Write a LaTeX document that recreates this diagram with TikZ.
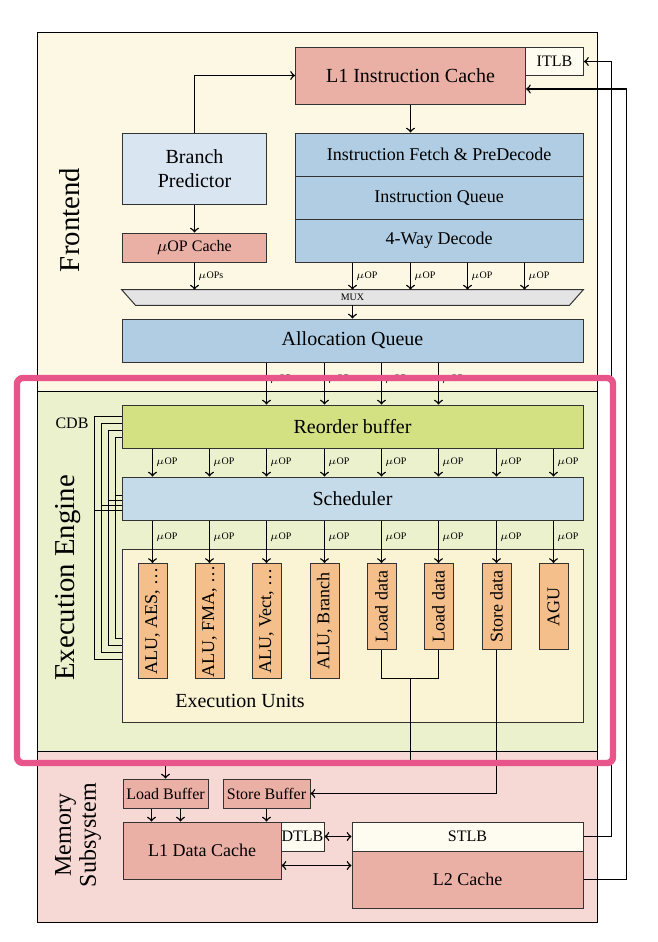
\documentclass[tikz,border=0pt]{standalone}
\usepackage{fontspec}
\setmainfont{Liberation Serif}
\usepackage{graphicx}
\usetikzlibrary{positioning}

\definecolor{frontbg}{HTML}{FCF8E3}
\definecolor{execbg}{HTML}{EBF1CD}
\definecolor{membg}{HTML}{F6D9D4}
\definecolor{cachered}{HTML}{EBB0A5}
\definecolor{tlbcream}{HTML}{FEFCF0}
\definecolor{predblue}{HTML}{D9E5F1}
\definecolor{decblue}{HTML}{B1CDE3}
\definecolor{schedblue}{HTML}{C5DBEA}
\definecolor{robgreen}{HTML}{D4E183}
\definecolor{eucream}{HTML}{FAF4D4}
\definecolor{unitorange}{HTML}{F4BF8B}
\definecolor{muxgray}{HTML}{E4E4E4}
\definecolor{hlpink}{HTML}{E8558A}

\begin{document}
\begin{tikzpicture}[x=0.5pt, y=-0.5pt]
    \tikzstyle{blk}=[draw=black!80, line width=0.5pt, inner sep=0pt, align=center]
    \tikzstyle{arr}=[line width=0.7pt, ->]
    \tikzstyle{darr}=[line width=0.7pt, <->]
    \tikzstyle{bus}=[line width=0.7pt]
    \tikzstyle{uop}=[font=\tiny, right, inner sep=1.5pt]
    \tikzstyle{unit}=[blk, fill=unitorange, minimum width=14.5pt, anchor=north, font=\small]

    \useasboundingbox (0,0) rectangle (658,942);

    % regions
    \draw[fill=frontbg] (37,32) rectangle (597,391);
    \draw[fill=execbg] (37,391) rectangle (597,751);
    \draw[fill=membg] (37,751) rectangle (597,922);
    \node[rotate=90, font=\Large] (frontlbl) at (70,220) {Frontend};
    \node[rotate=90, font=\Large] (execlbl) at (68,578) {Execution Engine};
    \node[rotate=90, font={\fontsize{12}{12.5}\selectfont}, align=center, inner sep=0pt] (memlbl) at (78,835) {Memory\\Subsystem};

    % frontend
    \node[blk, fill=cachered, minimum width=115pt, minimum height=28.5pt] (l1i) at (410.5,75.5) {L1 Instruction Cache};
    \node[blk, fill=tlbcream, minimum width=29pt, minimum height=14pt, font=\footnotesize] (itlb) at (554.5,61.5) {ITLB};
    \node[blk, fill=predblue, minimum width=72pt, minimum height=35.5pt] (bpred) at (194.5,168.5) {Branch\\Predictor};
    \node[blk, fill=cachered, minimum width=72pt, minimum height=14.5pt, font=\footnotesize] (uopc) at (194.5,247.5) {$\mu$OP Cache};
    \node[blk, fill=decblue, minimum width=144pt, minimum height=21.5pt, font=\small] (fetch) at (439,154.5) {Instruction Fetch \& PreDecode};
    \node[blk, fill=decblue, minimum width=144pt, minimum height=21.5pt, font=\small] (iqueue) at (439,197.5) {Instruction Queue};
    \node[blk, fill=decblue, minimum width=144pt, minimum height=21.5pt, font=\small] (decode) at (439,240.5) {4-Way Decode};

    \node[inner sep=0pt, minimum width=230.5pt, minimum height=7.5pt] (mux) at (352.5,297.5) {};
    \draw[fill=muxgray, draw=black!80, line width=0.5pt] (mux.north west) -- (mux.north east) -- ([xshift=-7pt]mux.south east) -- ([xshift=7pt]mux.south west) -- cycle;
    \node[font=\tiny, inner sep=0pt] (muxlbl) at (mux) {MUX};

    \node[blk, fill=decblue, minimum width=230.5pt, minimum height=21.5pt] (aq) at (352.5,340.5) {Allocation Queue};

    \draw[arr] (bpred.north) |- (l1i.west);
    \draw[arr] (l1i.south) -- (l1i.south |- fetch.north);
    \draw[arr] (bpred.south) -- (uopc.north);
    \draw[arr] (uopc.south) -- (uopc.south |- mux.north) node[uop, midway] {$\mu$OPs};
    \foreach \x in {352.5, 410.5, 467.5, 524.5}
        \draw[arr] (decode.south -| \x,0) -- (\x,0 |- mux.north) node[uop, midway] {$\mu$OP};
    \draw[arr] (mux.south) -- (aq.north);

    % execution engine
    \node[blk, fill=robgreen, minimum width=230.5pt, minimum height=21.5pt] (rob) at (352.5,426.5) {Reorder buffer};
    \node[blk, fill=schedblue, minimum width=230.5pt, minimum height=21.5pt] (sched) at (352.5,498.5) {Scheduler};
    \node[blk, fill=eucream, minimum width=230.5pt, minimum height=86.5pt] (eu) at (352.5,635.5) {};
    \node (eulbl) at (240,701) {Execution Units};
    \node[font=\footnotesize] (cdb) at (72,423) {CDB};

    \foreach \i/\x/\txt/\h in {0/152.5/{ALU, AES, \dots}/57.5, 1/209.5/{ALU, FMA, \dots}/57.5, 2/266.5/{ALU, Vect, \dots}/57.5, 3/324.5/{ALU, Branch}/57.5, 4/381.5/{Load data}/43, 5/438.5/{Load data}/43, 6/496.5/{Store data}/43, 7/553.5/{AGU}/43}
        \node[unit, minimum height=\h pt] (u\i) at (\x,563) {\rotatebox{90}{\txt}};

    \foreach \x in {266.5, 324.5, 381.5, 438.5}
        \draw[arr] (aq.south -| \x,0) -- (\x,0 |- rob.north) node[uop, pos=0.4] {$\mu$OP};
    \foreach \i/\x in {0/152.5, 1/209.5, 2/266.5, 3/324.5, 4/381.5, 5/438.5, 6/496.5, 7/553.5} {
        \draw[arr] (rob.south -| \x,0) -- (\x,0 |- sched.north) node[uop, midway] {$\mu$OP};
        \draw[arr] (sched.south -| \x,0) -- (\x,0 |- u\i.north) node[uop, pos=0.4] {$\mu$OP};
    }

    % common data bus
    \foreach \cx/\ry/\sy/\by in {94.5/416.5/510.5/659.5, 101.5/423.5/505.5/652.5, 108.5/430.5/500.5/645.5, 115.5/437.5/495.5/638.5} {
        \draw[bus] (rob.west |- 0,\ry) -| (\cx,\by) -- (eu.west |- 0,\by);
        \draw[bus] (\cx,\sy) -- (sched.west |- 0,\sy);
    }

    % memory subsystem
    \node[blk, fill=cachered, minimum width=42.5pt, minimum height=14.5pt, font=\footnotesize] (lbuf) at (165.5,793.5) {Load Buffer};
    \node[blk, fill=cachered, minimum width=43.5pt, minimum height=14.5pt, font=\footnotesize] (sbuf) at (266.5,793.5) {Store Buffer};
    \node[blk, fill=cachered, minimum width=79pt, minimum height=28.5pt, font=\small] (l1d) at (202,850.5) {L1 Data Cache};
    \node[blk, fill=tlbcream, minimum width=21.5pt, minimum height=14.5pt, font=\footnotesize] (dtlb) at (302.5,836.5) {DTLB};
    \node[blk, fill=tlbcream, minimum width=115.5pt, minimum height=14.5pt, font=\footnotesize] (stlb) at (467.5,836.5) {STLB};
    \node[blk, fill=cachered, minimum width=115.5pt, minimum height=28.5pt, font=\small] (l2) at (467.5,879.5) {L2 Cache};

    \coordinate (ldjoin) at (410.5,678.5);
    \coordinate (ldturn) at (410.5,765.5);
    \draw[bus] (u4.south) |- (ldjoin) -| (u5.south);
    \draw[arr] (ldjoin) -- (ldturn) -| (lbuf.north);
    \draw[arr] (u6.south) |- (sbuf.east);

    \draw[arr] ([xshift=-7pt]lbuf.south) -- ([xshift=-7pt]lbuf.south |- l1d.north);
    \draw[arr] ([xshift=7.5pt]lbuf.south) -- ([xshift=7.5pt]lbuf.south |- l1d.north);
    \draw[arr] (sbuf.south) -- (sbuf.south |- l1d.north);
    \draw[darr] (dtlb.east) -- (stlb.west);
    \draw[darr] (l1d.east |- 0,865.5) -- (l2.west |- 0,865.5);

    \coordinate (tlbbus) at (611.5,0);
    \coordinate (l2bus) at (626.5,0);
    \draw[arr] (stlb.east) -- (stlb.east -| tlbbus) |- (itlb.east);
    \draw[arr] (l2.east) -- (l2.east -| l2bus) |- ([yshift=-6.75pt]l1i.east);

    % highlight
    \draw[hlpink, line width=3.2pt, rounded corners=3pt] (17,378) rectangle (613,763);
\end{tikzpicture}
\end{document}
